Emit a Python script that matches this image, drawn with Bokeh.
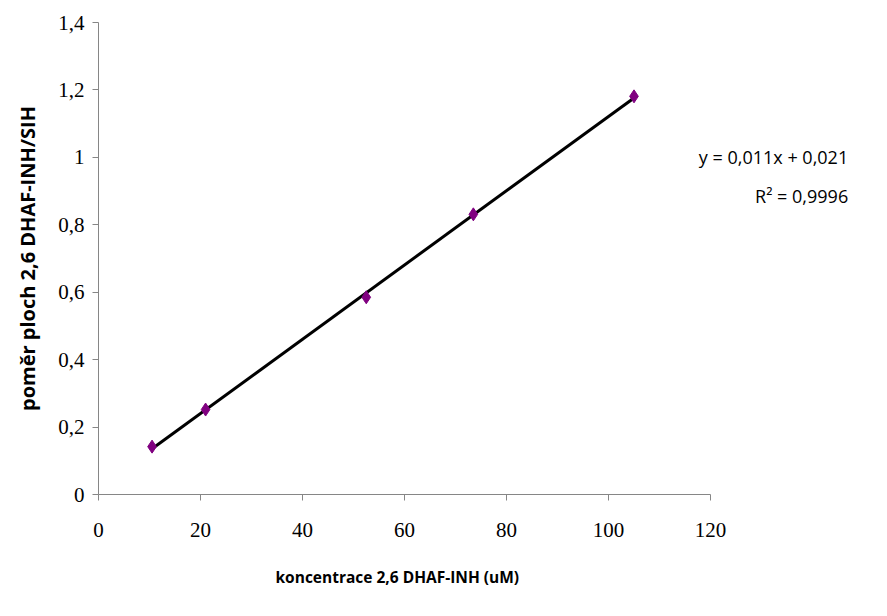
import numpy as np
from bokeh.plotting import figure
from bokeh.models import Range1d, FixedTicker, CustomJSTickFormatter, ColumnDataSource, Title
from bokeh.core.properties import value
from bokeh.embed import file_html
from bokeh.resources import INLINE

# data
conc = [10.5, 21.0, 52.5, 73.5, 105.0]
ratio = [0.142, 0.252, 0.585, 0.831, 1.181]
x_ticks = [0, 20, 40, 60, 80, 100, 120]
y_ticks = [0, 0.2, 0.4, 0.6, 0.8, 1.0, 1.2, 1.4]
eq_lines = ["y = 0,011x + 0,021", "R² = 0,9996"]
eq_y = [1.0, 0.885]
x_title = "koncentrace 2,6 DHAF-INH (uM)"
y_title = "poměr ploch 2,6 DHAF-INH/SIH"

slope, intercept = np.polyfit(conc, ratio, 1)
fit_x = [min(conc), max(conc)]
fit_y = [slope * v + intercept for v in fit_x]

p = figure(width=870, height=612, output_backend="svg", toolbar_location=None,
           x_range=Range1d(0, 150), y_range=Range1d(0, 1.4),
           min_border_left=98, min_border_right=7, min_border_top=22, min_border_bottom=10)
p.outline_line_color = None
p.xgrid.visible = False
p.ygrid.visible = False

fmt = CustomJSTickFormatter(code="return (Math.round(tick*10)/10).toString().replace('.', ',');")
for ax, ticks in ((p.xaxis[0], x_ticks), (p.yaxis[0], y_ticks)):
    ax.ticker = FixedTicker(ticks=ticks)
    ax.formatter = fmt
    ax.axis_line_color = "#868686"
    ax.major_tick_line_color = "#868686"
    ax.minor_tick_line_color = None
    ax.major_tick_in = 0
    ax.major_tick_out = 6
    ax.major_label_text_font = "Liberation Serif"
    ax.major_label_text_font_size = "21px"
    ax.major_label_text_color = "#000000"
    ax.axis_label_text_font = "Open Sans"
    ax.axis_label_text_font_style = "bold"
    ax.axis_label_text_color = "#000000"

p.xaxis[0].bounds = (0, 120)
p.xaxis[0].major_label_standoff = 22
p.yaxis[0].axis_label = y_title
p.yaxis[0].axis_label_text_font_size = "20px"
p.yaxis[0].major_label_standoff = 8
p.yaxis[0].axis_label_standoff = 14

# x-axis title, centred under the 0-120 part of the axis
p.add_layout(Title(text=x_title, align="left", offset=177, standoff=49,
                   text_font="Open Sans", text_font_style="bold", text_font_size="15.5px",
                   text_color="#000000"), "below")

p.line(fit_x, fit_y, line_color="black", line_width=3)
src = ColumnDataSource(dict(x=conc, y=ratio))
p.scatter("x", "y", source=src, marker="diamond", size=13, fill_color="#800080",
          line_color="#800080")

tsrc = ColumnDataSource(dict(x=[147, 147], y=eq_y, t=eq_lines))
p.text("x", "y", text="t", source=tsrc, text_align="right", text_baseline="middle",
       text_font=value("Open Sans"), text_font_size="18px", text_color="#000000")

open("out.html", "w").write(file_html(p, INLINE))
